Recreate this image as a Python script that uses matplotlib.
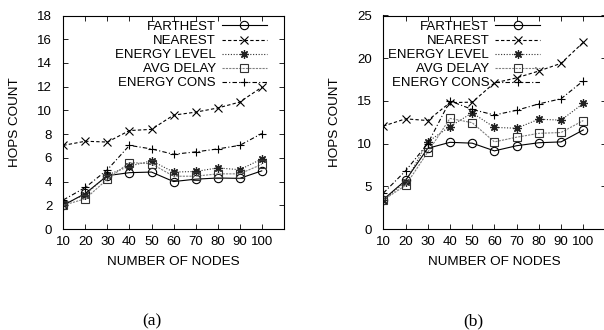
import matplotlib
matplotlib.use("Agg")
import matplotlib.pyplot as plt

nodes = [10, 20, 30, 40, 50, 60, 70, 80, 90, 100]
series_names = ["FARTHEST", "NEAREST", "ENERGY LEVEL", "AVG DELAY", "ENERGY CONS"]

# (a)
a_farthest = [2.0, 3.0, 4.5, 4.75, 4.8, 4.0, 4.2, 4.3, 4.27, 4.9]
a_nearest = [7.05, 7.4, 7.33, 8.3, 8.4, 9.6, 9.85, 10.2, 10.7, 11.95]
a_energy_level = [2.1, 2.9, 4.55, 5.3, 5.75, 4.8, 4.85, 5.15, 5.0, 5.9]
a_avg_delay = [2.0, 2.55, 4.2, 5.6, 5.5, 4.45, 4.45, 4.65, 4.65, 5.45]
a_energy_cons = [2.45, 3.5, 5.0, 7.05, 6.75, 6.3, 6.5, 6.75, 7.05, 8.05]

# (b)
b_farthest = [3.45, 5.7, 9.45, 10.15, 10.05, 9.15, 9.75, 10.1, 10.2, 11.6]
b_nearest = [12.05, 12.9, 12.7, 14.8, 14.85, 17.1, 17.7, 18.5, 19.4, 21.85]
b_energy_level = [3.4, 5.5, 10.2, 12.0, 13.6, 11.9, 11.8, 12.85, 12.75, 14.7]
b_avg_delay = [3.4, 5.1, 9.0, 12.95, 12.45, 10.2, 10.75, 11.2, 11.3, 12.7]
b_energy_cons = [4.2, 6.8, 10.0, 15.0, 14.0, 13.35, 13.9, 14.65, 15.25, 17.35]

FONT = "Liberation Sans"
plt.rcParams["font.family"] = [FONT, "DejaVu Sans"]

styles = [
    dict(color="black", linestyle="-", marker="o", mfc="none", mec="black", markeredgewidth=0.8),
    dict(color="black", linestyle=(0, (3, 2)), marker="x", mec="black", markeredgewidth=0.8),
    dict(color="#333333", linestyle=(0, (1, 1.5)), marker=(8, 2, 0), mec="#222222", markeredgewidth=0.9),
    dict(color="#808080", linestyle=(0, (2, 1)), marker="s", mfc="none", mec="#333333", markeredgewidth=0.8),
    dict(color="black", linestyle=(0, (4, 2, 1, 2)), marker="+", mec="black", markeredgewidth=0.8),
]

W, H = 604, 330
fig = plt.figure(figsize=(W / 100, H / 100), dpi=100)

def px_axes(x0, x1, ytop, ybot):
    return fig.add_axes([x0 / W, (H - ybot) / H, (x1 - x0) / W, (ybot - ytop) / H])

panels = [
    (px_axes(63.3, 283.8, 15.5, 229), [a_farthest, a_nearest, a_energy_level, a_avg_delay, a_energy_cons],
     18, list(range(0, 19, 2)), 0.923, "(a)", 151.5),
    (px_axes(383.3, 605.5, 15.5, 229), [b_farthest, b_nearest, b_energy_level, b_avg_delay, b_energy_cons],
     25, list(range(0, 26, 5)), 0.705, "(b)", 473.5),
]

for ax, data, ymax, yticks, legx, tag, tagx in panels:
    for name, vals, st in zip(series_names, data, styles):
        ax.plot(nodes, vals, label=name, linewidth=0.8, markersize=6, **st)
    ax.set_xlim(10, 110)
    ax.set_ylim(0, ymax)
    ax.set_xticks(nodes)
    ax.set_yticks(yticks)
    ax.tick_params(direction="in", length=3.5, width=0.6, top=True, right=True,
                   labelsize=9.5)
    ax.tick_params(axis="x", pad=5)
    ax.tick_params(axis="y", pad=8)
    for s in ax.spines.values():
        s.set_linewidth(0.8)
    ax.set_xlabel("NUMBER OF NODES", fontsize=9.7, labelpad=6)
    ax.set_ylabel("HOPS COUNT", fontsize=9.7)
    ax.yaxis.set_label_coords(-0.19, 0.5)
    ax.legend(loc="upper right", bbox_to_anchor=(legx, 0.975), frameon=False,
              markerfirst=False, fontsize=9.5, handlelength=3.4, handletextpad=0.45,
              labelspacing=0.14, borderpad=0, borderaxespad=0)
    fig.text(tagx / W, 1 - 321.7 / H, tag, ha="center", va="center",
             fontsize=12.5, family="Liberation Serif")

fig.savefig("out.png", dpi=100)
